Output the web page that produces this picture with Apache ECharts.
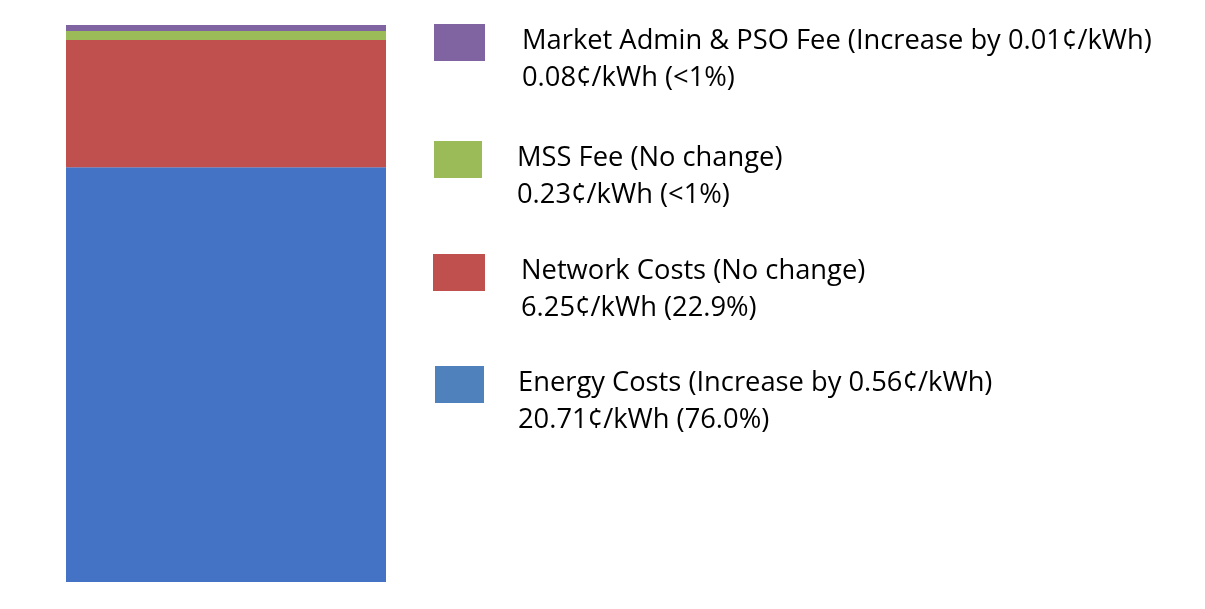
<!DOCTYPE html>
<html><head><meta charset="utf-8">
<script src="https://cdn.jsdelivr.net/npm/echarts@6/dist/echarts.min.js"></script>
<style>html,body{margin:0;padding:0;background:#fff}#c{width:1205px;height:609px}</style>
</head><body><div id="c"></div>
<script>
// bottom-to-top stack order
const seriesNames = ['Energy Costs', 'Network Costs', 'MSS Fee', 'Market Admin & PSO Fee'];
// heights as drawn in the bar (¢/kWh scale)
const barValues = [20.4, 6.25, 0.44, 0.3];
const changeText = ['(Increase by 0.56¢/kWh)', '(No change)', '(No change)', '(Increase by 0.01¢/kWh)'];
const priceText = ['20.71¢/kWh (76.0%)', '6.25¢/kWh (22.9%)', '0.23¢/kWh (<1%)', '0.08¢/kWh (<1%)'];
const barColors = ['#4472C4', '#C0504D', '#9BBB59', '#8064A2'];
const legendColors = ['#4F81BD', '#C0504D', '#9BBB59', '#8064A2'];

const total = barValues.reduce((a, b) => a + b, 0);
const markerTop = [367, 255, 142, 25];
const legendLeft = [435, 433, 434, 434];
const textLeft = [518, 521, 517, 522];
const markerW = [49, 52, 48, 51];

const series = seriesNames.map((n, i) => ({
  name: n, type: 'bar', stack: 'all', barWidth: '100%',
  itemStyle: { color: barColors[i] },
  data: [barValues[i]]
}));

const legends = seriesNames.map((n, i) => ({
  left: legendLeft[i], top: markerTop[i] - 20, orient: 'vertical',
  selectedMode: false, padding: 0,
  itemWidth: markerW[i], itemHeight: 37,
  data: [{ name: n, itemStyle: { color: legendColors[i] }, icon: 'rect' }],
  formatter: () => '{s| }\n{a|' + n + ' ' + changeText[i] + '}\n{a|' + priceText[i] + '}',
  textStyle: {
    fontFamily: 'Open Sans', fontSize: 27.3, color: '#000',
    padding: [0, 0, 0, textLeft[i] - legendLeft[i] - markerW[i] - 5],
    rich: {
      s: { fontSize: 1, lineHeight: 34 },
      a: { fontFamily: 'Open Sans', fontSize: 27.3, color: '#000', lineHeight: 37 }
    }
  }
}));

const chart = echarts.init(document.getElementById('c'));
chart.setOption({
  animation: false,
  grid: { left: 66, top: 25, width: 320, bottom: 27 },
  xAxis: { type: 'category', data: [''], show: false },
  yAxis: { type: 'value', min: 0, max: total, show: false },
  legend: legends,
  series: series
});
</script></body></html>
